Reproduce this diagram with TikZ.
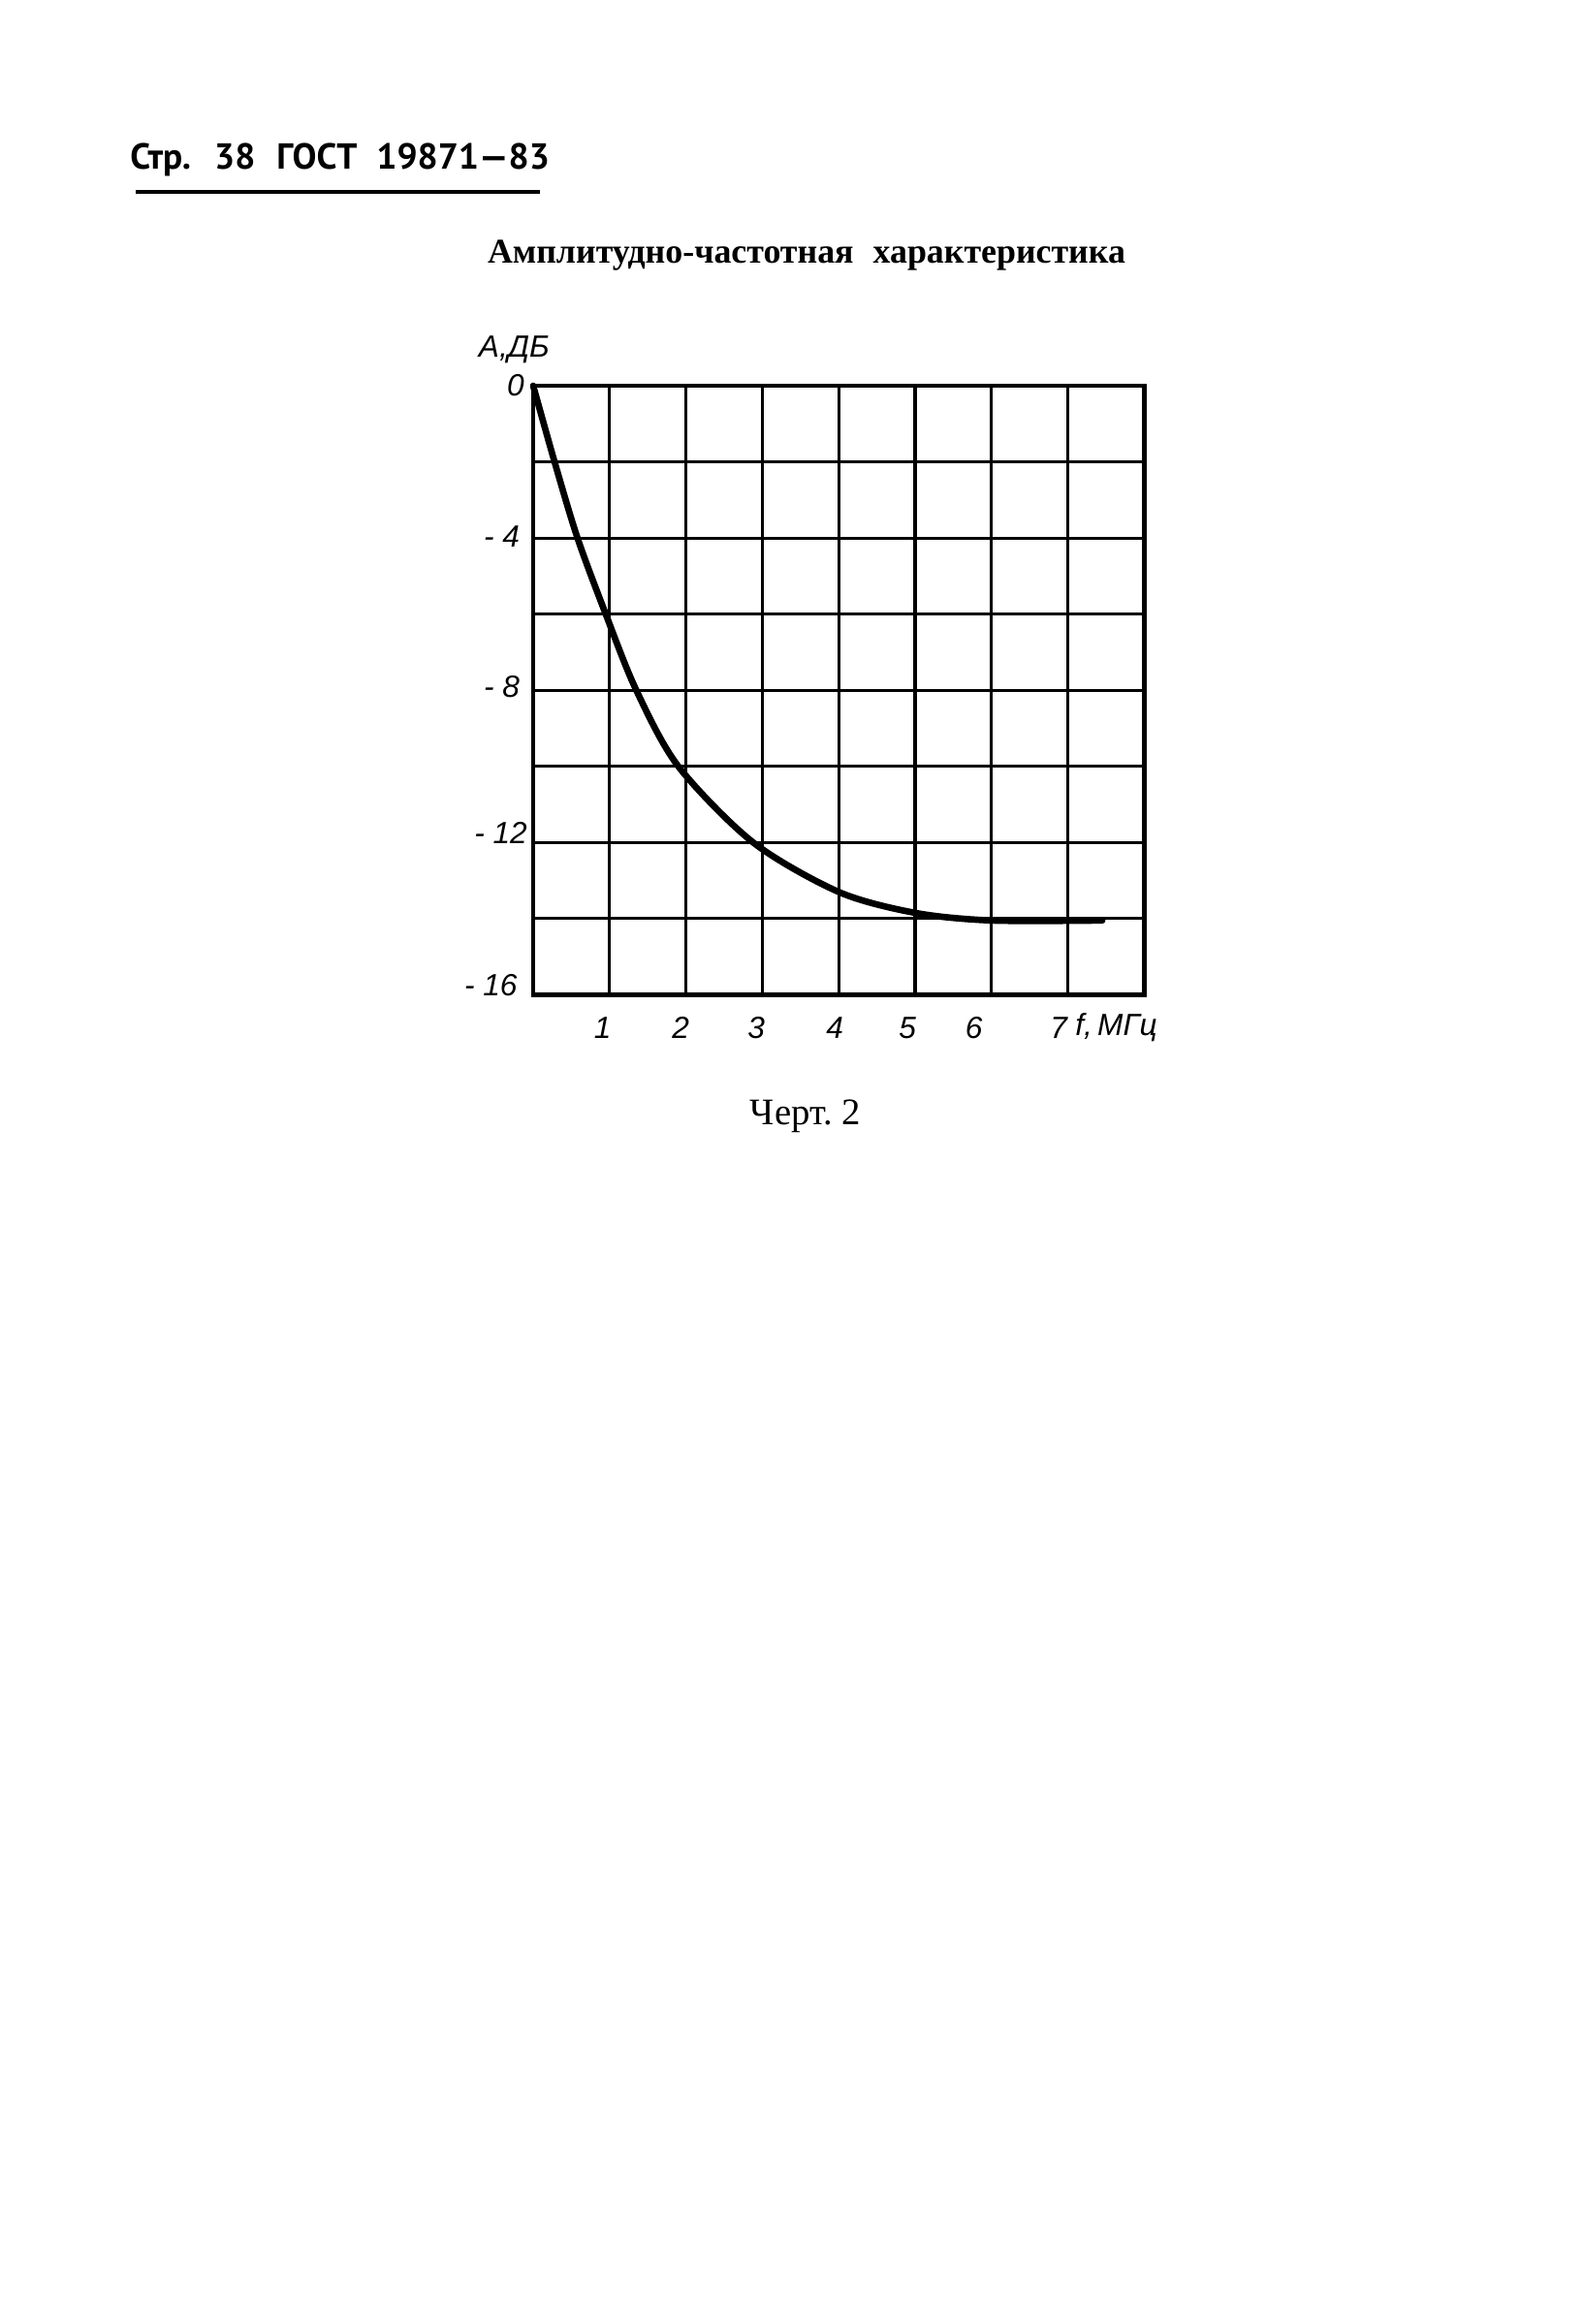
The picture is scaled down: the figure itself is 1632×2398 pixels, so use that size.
\documentclass[tikz,border=0pt]{standalone}
\usepackage{fontspec}
\setmainfont{Liberation Serif}
\newfontfamily\headfont{PT Sans}
\newfontfamily\drawfont{Liberation Sans}
\begin{document}
\begin{tikzpicture}[x=0.01cm, y=-0.01cm, thick]
                \tikzstyle{lbl} = [inner sep=0pt, font=\drawfont\itshape\fontsize{9}{10}\selectfont]
                \tikzstyle{gridline} = [line width=0.9pt]
                \tikzstyle{frame} = [line width=1.3pt]
                \tikzstyle{curve} = [line width=1.9pt, line cap=round, line join=round]

                % Page
                \fill[white] (0,0) rectangle (1632,2398);
                \useasboundingbox (0,0) rectangle (1632,2398);

                % Heading with rule
                \node[anchor=base west, inner sep=0pt, font=\headfont\bfseries\fontsize{10.6}{12}\selectfont] (head) at (133,175) {Стр.\hspace{2.4mm}38\hspace{2.2mm}ГОСТ\hspace{2mm}19871—83};
                \draw[line width=1.2pt] (140,198) -- (557,198);

                % Title
                \node[anchor=base, inner sep=0pt, font=\bfseries\fontsize{10.2}{12}\selectfont] (title) at (832,272) {Амплитудно-частотная\hspace{2mm}характеристика};

                \begin{scope}[shift={(550,398)}, x=0.7875cm, y=0.3925cm]
                % Grid and frame
                \draw[gridline] (0,-16) grid[xstep=1, ystep=2] (8,0);
                \draw[frame] (0,-16) rectangle (8,0);

                % Axis A (left)
                \node[lbl] (aname) at (-0.25,0.94) {A,ДБ};
                \node[lbl, anchor=east] (a0) at (-0.10,0.02) {0};
                \node[lbl, anchor=east] (a4) at (-0.16,-3.95) {- 4};
                \node[lbl, anchor=east] (a8) at (-0.16,-7.90) {- 8};
                \node[lbl, anchor=east] (a12) at (-0.06,-11.75) {- 12};
                \node[lbl, anchor=east] (a16) at (-0.19,-15.75) {- 16};

                % Axis f (bottom)
                \node[lbl] (f1) at (0.91,-16.87) {1};
                \node[lbl] (f2) at (1.93,-16.87) {2};
                \node[lbl] (f3) at (2.92,-16.87) {3};
                \node[lbl] (f4) at (3.95,-16.87) {4};
                \node[lbl] (f5) at (4.90,-16.87) {5};
                \node[lbl] (f6) at (5.77,-16.87) {6};
                \node[lbl] (f7) at (6.88,-16.87) {7};
                \node[lbl, anchor=west] (fname) at (7.08,-16.87) {f,\,МГц};

                % Response curve
                \draw[curve] plot[smooth] coordinates {(0,0) (0.28,-2) (0.58,-4) (0.95,-6) (1.35,-8) (1.90,-10) (2.88,-12) (4,-13.3) (5,-13.85) (6,-14.05) (7.45,-14.05)};
                \end{scope}

                % Caption
                \node[anchor=base, inner sep=0pt, font=\fontsize{11}{13}\selectfont] (chert) at (831,1160) {Черт.\hspace{1mm}2};
\end{tikzpicture}
\end{document}
